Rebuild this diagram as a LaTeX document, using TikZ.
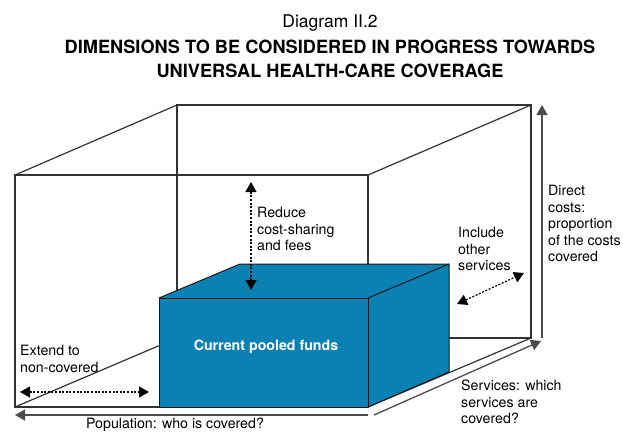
\documentclass[tikz,border=0pt]{standalone}
\usepackage{fontspec}
\setmainfont{TeX Gyre Heros}
\usetikzlibrary{arrows.meta}
\definecolor{poolblue}{RGB}{11,128,179}

\begin{document}
\begin{tikzpicture}[x=1pt,y=-1pt]
\tikzstyle{every node}=[font=\fontsize{14.2}{16.5}\selectfont, inner sep=0pt]
\tikzstyle{roomline}=[draw=black!80, line width=1.2pt]
\tikzstyle{boxline}=[draw=black!90, line width=1pt]
\tikzstyle{dimarrow}=[draw=black!70, line width=1.3pt, -{Triangle[length=10pt,width=11pt]}]
\tikzstyle{changearrow}=[draw=black, line width=1.2pt, dash pattern=on 2pt off 1.6pt, {Triangle[length=10pt,width=11pt]}-{Triangle[length=10pt,width=11pt]}]
\tikzstyle{note}=[align=left, anchor=north west]

\useasboundingbox (0,0) rectangle (623,432);

% title
\node[anchor=base, font=\fontsize{17.5}{21}\selectfont] (Caption) at (330,27) {Diagram II.2};
\node[anchor=north, align=center, font=\fontsize{18.2}{24.5}\selectfont\bfseries] (Title) at (330,39.5)
  {DIMENSIONS TO BE CONSIDERED IN PROGRESS TOWARDS\\UNIVERSAL HEALTH-CARE COVERAGE};

% the room
\coordinate (FrontTL) at (15,175);
\coordinate (FrontTR) at (368,175);
\coordinate (FrontBL) at (15,407);
\coordinate (FrontBR) at (368,407);
\coordinate (BackTL) at (177,105);
\coordinate (BackTR) at (531,105);
\coordinate (BackBL) at (177,338);
\coordinate (BackBR) at (531,338);

\draw[roomline] (FrontTL) -- (FrontTR) -- (FrontBR) -- (FrontBL) -- cycle;
\draw[roomline] (BackTL) -- (BackTR) -- (BackBR) -- (BackBL) -- cycle;
\draw[roomline] (FrontTL) -- (BackTL);
\draw[roomline] (FrontTR) -- (BackTR);
\draw[roomline] (FrontBL) -- (BackBL);
\draw[roomline] (FrontBR) -- (BackBR);

% current funds
\coordinate (BoxFTL) at (159,298);
\coordinate (BoxFTR) at (368,298);
\coordinate (BoxFBL) at (159,407);
\coordinate (BoxFBR) at (368,407);
\coordinate (BoxBTL) at (240,264);
\coordinate (BoxBTR) at (449,264);
\coordinate (BoxBBR) at (449,372);

\fill[poolblue] (BoxFBL) -- (BoxFTL) -- (BoxBTL) -- (BoxBTR) -- (BoxBBR) -- (BoxFBR) -- cycle;
\draw[boxline] (BoxFBL) rectangle (BoxFTR);
\draw[boxline] (BoxFTL) -- (BoxBTL) -- (BoxBTR) -- (BoxBBR) -- (BoxFBR);
\draw[boxline] (BoxFTR) -- (BoxBTR);
\node[anchor=base, text=white, font=\fontsize{14.2}{16}\selectfont\bfseries] (Funds) at (266,350.5) {Current pooled funds};

% axes
\coordinate (PopStart) at (368,415);
\coordinate (PopEnd) at (15,415);
\coordinate (SerStart) at (374,415);
\coordinate (SerEnd) at (541,341);
\coordinate (CostStart) at (542,338);
\coordinate (CostEnd) at (542,105);
\draw[dimarrow] (PopStart) -- (PopEnd);
\draw[dimarrow] (SerStart) -- (SerEnd);
\draw[dimarrow] (CostStart) -- (CostEnd);

\node[anchor=base] (Population) at (175,428.5) {Population: who is covered?};
\node[note] (Services) at (461,380) {Services: which\\services are\\covered?};
\node[note] (Costs) at (548,185) {Direct\\costs:\\proportion\\of the costs\\covered};

% directions of progress
\coordinate (ReduceTop) at (251,182);
\coordinate (ReduceBot) at (251,290);
\coordinate (IncludeIn) at (457,304);
\coordinate (IncludeOut) at (524,273);
\coordinate (ExtendL) at (20,392);
\coordinate (ExtendR) at (149,392);
\draw[changearrow] (ReduceTop) -- (ReduceBot);
\draw[changearrow] (IncludeIn) -- (IncludeOut);
\draw[changearrow] (ExtendL) -- (ExtendR);

\node[note] (Reduce) at (257,207) {Reduce\\cost-sharing\\and fees};
\node[note] (Include) at (458,227) {Include\\other\\services};
\node[note] (Extend) at (20,345) {Extend to\\non-covered};
\end{tikzpicture}
\end{document}
